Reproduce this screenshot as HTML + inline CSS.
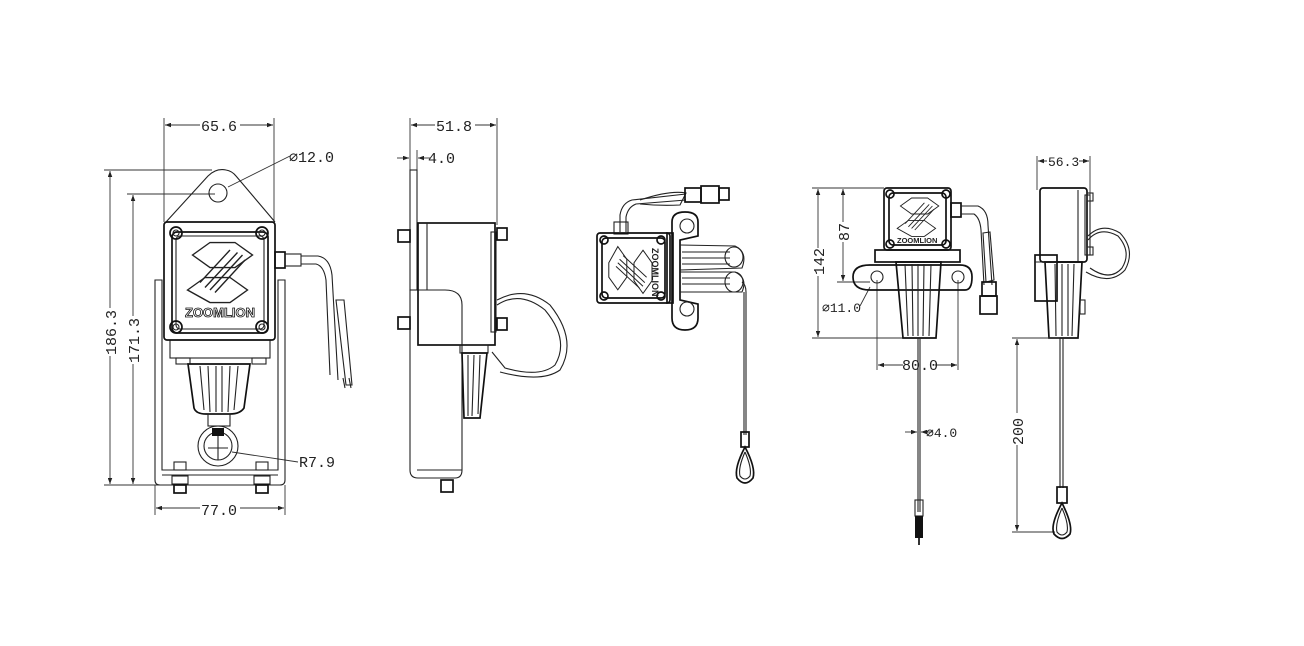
<!DOCTYPE html>
<html><head><meta charset="utf-8"><style>
html,body{margin:0;padding:0;background:#fff;}
svg{display:block}
text{font-family:"Liberation Mono","DejaVu Sans Mono",monospace;fill:#222;font-size:15px}
.t{stroke:#222;fill:none;stroke-width:1.1}
.k{stroke:#111;fill:none;stroke-width:1.7}
.d{stroke:#333;fill:none;stroke-width:0.9}
.f{fill:#111}
</style></head><body>
<svg width="1304" height="646" viewBox="0 0 1304 646">
<defs>
<marker id="a" viewBox="0 0 8 6" refX="8" refY="3" markerWidth="7" markerHeight="5" orient="auto-start-reverse"><path d="M0,0L8,3L0,6z" fill="#222"/></marker>
<g id="logo">
 <path class="t" d="M-22,-20 L-8,-30 L12,-30 L26,-20 L12,-10 L-8,-10 Z"/>
 <path class="t" d="M-26,8 L-12,-2 L8,-2 L22,8 L8,18 L-8,18 Z"/>
 <path class="t" d="M-12,6 L14,-22 M-8,8 L18,-20 M-4,10 L20,-16 M-16,2 L8,-24"/>
</g>
</defs>

<!-- ============ VIEW 1 FRONT ============ -->
<g>
 <line class="d" x1="164" y1="118" x2="164" y2="222"/>
 <line class="d" x1="274" y1="118" x2="274" y2="222"/>
 <line class="d" x1="165" y1="125" x2="273" y2="125" marker-start="url(#a)" marker-end="url(#a)"/>
 <rect x="200" y="117" width="40" height="14" fill="#fff"/>
 <text x="201" y="131">65.6</text>
 <line class="d" x1="228" y1="187" x2="290" y2="156"/>
 <text x="289" y="162">⌀12.0</text>
 <line class="d" x1="104" y1="170" x2="212" y2="170"/>
 <line class="d" x1="127" y1="194" x2="215" y2="194"/>
 <line class="d" x1="104" y1="485" x2="160" y2="485"/>
 <line class="d" x1="110" y1="171" x2="110" y2="484" marker-start="url(#a)" marker-end="url(#a)"/>
 <line class="d" x1="133" y1="195" x2="133" y2="484" marker-start="url(#a)" marker-end="url(#a)"/>
 <rect x="102" y="308" width="16" height="48" fill="#fff"/>
 <rect x="125" y="316" width="16" height="48" fill="#fff"/>
 <text transform="translate(116,355) rotate(-90)">186.3</text>
 <text transform="translate(139,363) rotate(-90)">171.3</text>
 <line class="d" x1="155" y1="485" x2="155" y2="515"/>
 <line class="d" x1="285" y1="485" x2="285" y2="515"/>
 <line class="d" x1="156" y1="508" x2="284" y2="508" marker-start="url(#a)" marker-end="url(#a)"/>
 <rect x="200" y="500" width="40" height="14" fill="#fff"/>
 <text x="201" y="515">77.0</text>
 <line class="d" x1="232" y1="452" x2="298" y2="462"/>
 <text x="299" y="467">R7.9</text>
 <!-- ear -->
 <path class="t" d="M166,222 L208,176 Q216,168 226,170 Q232,171 236,176 L275,222"/>
 <circle class="t" cx="218" cy="193" r="9"/>
 <!-- U bracket -->
 <path class="t" d="M155,280 L162,280 L162,470 L278,470 L278,280 L285,280 L285,480 Q285,485 280,485 L160,485 Q155,485 155,480 Z"/>
 <line class="t" x1="162" y1="475" x2="278" y2="475"/>
 <rect class="t" x="170" y="340" width="100" height="18"/>
 <rect class="t" x="176" y="358" width="14" height="6"/>
 <rect class="t" x="252" y="358" width="14" height="6"/>
 <path class="k" d="M188,364 L250,364 L244,408 Q240,414 230,414 L206,414 Q196,414 194,408 Z"/>
 <path class="t" d="M200,366 L204,410 M208,366 L210,412 M216,366 L216,412 M222,366 L222,412 M230,366 L228,412 M238,366 L234,410"/>
 <rect class="t" x="208" y="414" width="22" height="12"/>
 <circle class="t" cx="218" cy="446" r="20"/>
 <circle class="t" cx="218" cy="446" r="14"/>
 <rect class="f" x="212" y="428" width="12" height="8"/>
 <line class="t" x1="218" y1="436" x2="218" y2="460"/><line class="t" x1="208" y1="448" x2="228" y2="448"/>
 <rect class="t" x="174" y="462" width="12" height="8"/><rect class="t" x="256" y="462" width="12" height="8"/>
 <rect class="t" x="172" y="476" width="16" height="8"/><rect class="t" x="254" y="476" width="16" height="8"/>
 <rect class="k" x="174" y="485" width="12" height="8"/><rect class="k" x="256" y="485" width="12" height="8"/>
 <rect class="k" x="164" y="222" width="111" height="118" rx="3" fill="#fff"/>
 <rect class="k" x="172" y="232" width="96" height="101" rx="5"/>
 <rect class="t" x="176" y="236" width="88" height="93" rx="4"/>
 <g fill="#fff" class="k"><circle cx="176" cy="233" r="6"/><circle cx="262" cy="233" r="6"/><circle cx="176" cy="327" r="6"/><circle cx="262" cy="327" r="6"/></g>
 <g class="t"><circle cx="176" cy="233" r="3"/><circle cx="262" cy="233" r="3"/><circle cx="176" cy="327" r="3"/><circle cx="262" cy="327" r="3"/></g>
 <use href="#logo" transform="translate(220,280) scale(1.25)"/>
 <text x="185" y="317" style="font-family:'Liberation Sans',sans-serif;font-weight:bold;font-size:13px;fill:#fff;stroke:#111;stroke-width:0.8">ZOOMLION</text>
 <rect class="k" x="275" y="252" width="10" height="16"/>
 <rect class="t" x="285" y="254" width="16" height="12"/>
 <path class="t" d="M301,256 L318,256 Q330,258 332,275 L338,380 M301,264 L316,264 Q324,266 326,280 L330,375"/>
 <path class="t" d="M336,300 L344,300 L352,385 L346,385 Z"/>
 <path class="t" d="M343,378 L345,388 M349,378 L351,388"/>
</g>

<!-- ============ VIEW 2 SIDE ============ -->
<g>
 <line class="d" x1="410" y1="118" x2="410" y2="170"/>
 <line class="d" x1="497" y1="118" x2="497" y2="225"/>
 <line class="d" x1="411" y1="125" x2="496" y2="125" marker-start="url(#a)" marker-end="url(#a)"/>
 <rect x="435" y="117" width="40" height="14" fill="#fff"/>
 <text x="436" y="131">51.8</text>
 <line class="d" x1="397" y1="158" x2="409" y2="158" marker-end="url(#a)"/>
 <line class="d" x1="430" y1="158" x2="418" y2="158" marker-end="url(#a)"/>
 <line class="d" x1="417" y1="150" x2="417" y2="170"/>
 <text x="428" y="163">4.0</text>
 <rect class="t" x="410" y="170" width="7" height="120"/>
 <path class="t" d="M410,290 L445,290 Q462,290 462,305 L462,470 Q462,478 455,478 L418,478 Q410,478 410,470 Z"/>
 <line class="t" x1="417" y1="470" x2="462" y2="470"/>
 <rect class="k" x="418" y="223" width="77" height="122"/>
 <line class="t" x1="427" y1="223" x2="427" y2="290"/>
 <rect class="t" x="491" y="232" width="5" height="100"/>
 <rect class="k" x="398" y="230" width="12" height="12"/><rect class="k" x="398" y="317" width="12" height="12"/>
 <rect class="k" x="497" y="228" width="10" height="12"/><rect class="k" x="497" y="318" width="10" height="12"/>
 <rect class="t" x="460" y="345" width="28" height="8"/>
 <path class="k" d="M462,353 L487,353 L480,418 L464,418 Z"/>
 <path class="t" d="M468,355 L468,416 M474,355 L472,416 M480,355 L478,414"/>
 <path class="t" d="M497,305 Q520,290 545,310 Q570,340 555,365 Q540,378 505,368 L492,352 M497,300 Q525,285 550,305 Q578,340 560,370 Q542,383 500,372"/>
 <rect class="k" x="441" y="480" width="12" height="12"/>
</g>

<!-- ============ VIEW 3 ISO ============ -->
<g>
 <path class="t" d="M620,232 L620,215 Q622,203 632,200 L686,194 M626,232 L626,217 Q628,207 636,204 L686,200"/>
 <path class="t" d="M640,200 Q670,190 686,193 L680,205 Q660,206 640,204"/>
 <rect class="k" x="685" y="188" width="16" height="14"/>
 <rect class="k" x="701" y="186" width="18" height="17"/>
 <rect class="k" x="719" y="188" width="10" height="12"/>
 <rect class="t" x="614" y="222" width="14" height="12"/>
 <path class="k" d="M672,222 Q672,212 685,212 Q698,212 698,222 L698,236 L680,240 L680,300 L698,304 L698,318 Q698,330 685,330 Q672,330 672,318 Z"/>
 <circle class="t" cx="687" cy="226" r="7"/><circle class="t" cx="687" cy="309" r="7"/>
 <path class="t" d="M680,245 L735,246 Q748,252 742,268 L680,270 M680,272 L735,272 Q748,278 742,292 L680,292"/>
 <path class="t" d="M682,252 L730,252 M682,258 L730,258 M682,264 L730,264 M682,278 L730,278 M682,284 L730,284"/>
 <ellipse class="t" cx="734" cy="257" rx="9" ry="10" fill="#ddd"/>
 <ellipse class="t" cx="734" cy="282" rx="9" ry="10" fill="#ddd"/>
 <rect class="k" x="597" y="233" width="73" height="70" rx="3" fill="#fff"/>
 <rect class="k" x="602" y="238" width="63" height="60" rx="4"/>
 <rect class="k" x="667" y="233" width="6" height="70"/>
 <g fill="#fff" class="k"><circle cx="604" cy="240" r="4"/><circle cx="661" cy="240" r="4"/><circle cx="604" cy="296" r="4"/><circle cx="661" cy="296" r="4"/></g>
 <use href="#logo" transform="translate(625,270) rotate(90) scale(0.9)"/>
 <text transform="translate(652,248) rotate(90)" style="font-family:'Liberation Sans',sans-serif;font-weight:bold;font-size:9px">ZOOMLION</text>
 <path class="t" d="M742,282 Q746,285 746,292 L746,435 M744,292 L744,435"/>
 <rect class="k" x="741" y="432" width="8" height="15"/>
 <path class="k" d="M745,447 Q734,468 737,478 Q745,488 753,478 Q756,468 745,447 Z"/>
 <path class="t" d="M745,452 Q738,468 740,476 Q745,482 750,476 Q752,468 745,452"/>
</g>

<!-- ============ VIEW 4 FRONT 2 ============ -->
<g>
 <line class="d" x1="812" y1="188" x2="884" y2="188"/>
 <line class="d" x1="812" y1="338" x2="920" y2="338"/>
 <line class="d" x1="837" y1="282" x2="870" y2="282"/>
 <line class="d" x1="818" y1="189" x2="818" y2="337" marker-start="url(#a)" marker-end="url(#a)"/>
 <line class="d" x1="843" y1="189" x2="843" y2="281" marker-start="url(#a)" marker-end="url(#a)"/>
 <rect x="811" y="248" width="14" height="28" fill="#fff"/>
 <rect x="836" y="222" width="14" height="20" fill="#fff"/>
 <text transform="translate(824,275) rotate(-90)">142</text>
 <text transform="translate(849,241) rotate(-90)">87</text>
 <line class="d" x1="870" y1="287" x2="860" y2="306"/>
 <text x="822" y="312" style="font-size:13px">⌀11.0</text>
 <line class="d" x1="877" y1="280" x2="877" y2="370"/>
 <line class="d" x1="958" y1="280" x2="958" y2="370"/>
 <line class="d" x1="878" y1="365" x2="957" y2="365" marker-start="url(#a)" marker-end="url(#a)"/>
 <rect x="903" y="357" width="32" height="14" fill="#fff"/>
 <text x="902" y="370">80.0</text>
 <path class="k" d="M870,265 Q853,265 853,277 Q853,290 870,290 L965,290 Q972,290 972,277 Q972,265 960,265 Z" fill="#fff"/>
 <circle class="t" cx="877" cy="277" r="6"/><circle class="t" cx="958" cy="277" r="6"/>
 <rect class="k" x="875" y="250" width="85" height="12"/>
 <path class="k" d="M896,262 L941,262 L936,338 L903,338 Z" fill="#fff"/>
 <path class="t" d="M905,264 L908,336 M912,264 L913,336 M918,264 L918,336 M924,264 L923,336 M931,264 L929,336"/>
 <rect class="k" x="884" y="188" width="67" height="62" rx="3" fill="#fff"/>
 <rect class="k" x="889" y="193" width="57" height="52" rx="4"/>
 <g fill="#fff" class="k"><circle cx="890" cy="194" r="4"/><circle cx="946" cy="194" r="4"/><circle cx="890" cy="244" r="4"/><circle cx="946" cy="244" r="4"/></g>
 <use href="#logo" transform="translate(918,222) scale(0.8)"/>
 <text x="897" y="243" style="font-family:'Liberation Sans',sans-serif;font-weight:bold;font-size:7.5px">ZOOMLION</text>
 <rect class="k" x="951" y="203" width="10" height="14"/>
 <path class="t" d="M961,206 L978,206 Q988,210 988,225 L992,285 M961,214 L974,214 Q980,218 981,230 L984,285"/>
 <path class="t" d="M983,233 L990,232 L994,280 L986,282 Z"/>
 <rect class="k" x="982" y="282" width="14" height="14"/>
 <rect class="k" x="980" y="296" width="17" height="18"/>
 <line class="t" x1="918" y1="338" x2="918" y2="512"/><line class="t" x1="920" y1="338" x2="920" y2="512"/>
 <line class="d" x1="905" y1="432" x2="917" y2="432" marker-end="url(#a)"/>
 <line class="d" x1="933" y1="432" x2="921" y2="432" marker-end="url(#a)"/>
 <text x="926" y="437" style="font-size:13px">⌀4.0</text>
 <rect class="t" x="915" y="500" width="8" height="16"/>
 <rect x="915" y="516" width="8" height="22" fill="#111"/>
 <line class="k" x1="919" y1="538" x2="919" y2="545"/>
</g>

<!-- ============ VIEW 5 SIDE 2 ============ -->
<g>
 <line class="d" x1="1037" y1="156" x2="1037" y2="190"/>
 <line class="d" x1="1090" y1="156" x2="1090" y2="195"/>
 <line class="d" x1="1038" y1="161" x2="1089" y2="161" marker-start="url(#a)" marker-end="url(#a)"/>
 <rect x="1047" y="154" width="32" height="14" fill="#fff"/>
 <text x="1048" y="166" style="font-size:13px">56.3</text>
 <rect class="k" x="1040" y="188" width="47" height="74" rx="3"/>
 <line class="t" x1="1078" y1="190" x2="1078" y2="262"/>
 <rect class="t" x="1085" y="195" width="5" height="60"/>
 <rect class="t" x="1087" y="193" width="6" height="8"/><rect class="t" x="1087" y="247" width="6" height="8"/>
 <path class="t" d="M1088,240 Q1100,226 1118,236 Q1132,252 1122,268 Q1110,282 1090,268 M1088,236 Q1102,222 1120,233 Q1136,250 1125,270 Q1110,286 1086,272"/>
 <path class="k" d="M1045,262 L1082,262 L1078,338 L1049,338 Z" fill="#fff"/>
 <path class="t" d="M1055,264 L1056,336 M1062,264 L1062,336 M1068,264 L1068,336 M1074,264 L1072,336"/>
 <rect class="t" x="1080" y="300" width="5" height="14"/>
 <rect class="k" x="1035" y="255" width="22" height="46" fill="#fff"/>
 <line class="t" x1="1035" y1="262" x2="1057" y2="262"/>
 <line class="d" x1="1012" y1="338" x2="1060" y2="338"/>
 <line class="d" x1="1012" y1="532" x2="1055" y2="532"/>
 <line class="d" x1="1017" y1="339" x2="1017" y2="531" marker-start="url(#a)" marker-end="url(#a)"/>
 <rect x="1010" y="413" width="14" height="32" fill="#fff"/>
 <text transform="translate(1023,445) rotate(-90)">200</text>
 <line class="t" x1="1060" y1="338" x2="1060" y2="488"/><line class="t" x1="1063" y1="338" x2="1063" y2="488"/>
 <rect class="k" x="1057" y="487" width="10" height="16"/>
 <path class="k" d="M1062,503 Q1050,525 1054,534 Q1062,543 1070,534 Q1073,525 1062,503 Z"/>
 <path class="t" d="M1062,508 Q1055,524 1057,532 Q1062,538 1067,532 Q1069,524 1062,508"/>
</g>
</svg>
</body></html>
